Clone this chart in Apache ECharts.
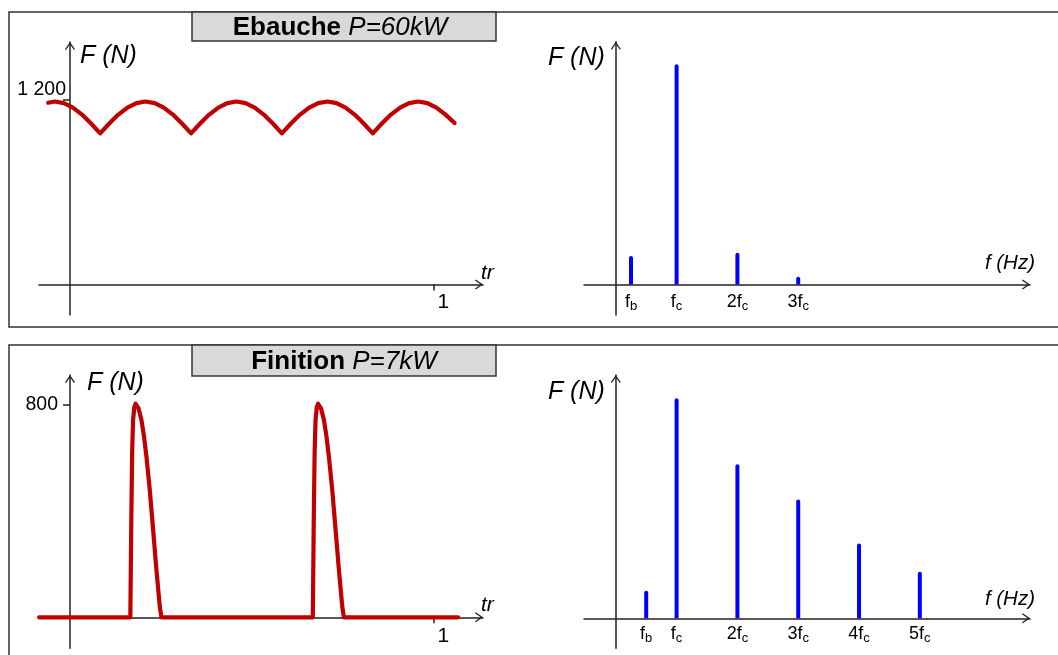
<!DOCTYPE html>
<html><head><meta charset="utf-8">
<script src="https://cdn.jsdelivr.net/npm/echarts@6/dist/echarts.min.js"></script>
<style>html,body{margin:0;padding:0;background:#fff}#c{width:1058px;height:655px}</style>
</head><body><div id="c"></div>
<script>
// ---- data ----
const titleTop = ['Ebauche', 'P=60kW'];
const titleBottom = ['Finition', 'P=7kW'];

// roughing: cutting force vs rotation (tr)
const timeTop = [-0.06, -0.042, -0.017, 0.008, 0.033, 0.058, 0.083,
  0.108, 0.133, 0.158, 0.183, 0.208, 0.233, 0.258, 0.283, 0.308, 0.333,
  0.358, 0.383, 0.408, 0.433, 0.458, 0.483, 0.508, 0.533, 0.558, 0.583,
  0.608, 0.633, 0.658, 0.683, 0.708, 0.733, 0.758, 0.783, 0.808, 0.833,
  0.858, 0.883, 0.908, 0.933, 0.958, 0.983, 1.008, 1.033, 1.058];
const forceTop = [1182, 1190, 1180, 1150, 1105, 1047, 983,
  1047, 1105, 1150, 1180, 1190, 1180, 1150, 1105, 1047, 983,
  1047, 1105, 1150, 1180, 1190, 1180, 1150, 1105, 1047, 983,
  1047, 1105, 1150, 1180, 1190, 1180, 1150, 1105, 1047, 983,
  1047, 1105, 1150, 1180, 1190, 1180, 1150, 1105, 1050];

// finishing: cutting force vs rotation (tr)
const timeBottom = [-0.085, 0.166, 0.1685, 0.171, 0.1735, 0.177, 0.1805, 0.184, 0.1885, 0.1966, 0.2035, 0.2103, 0.2195, 0.2287, 0.2378, 0.247, 0.2516,
  0.668, 0.6705, 0.673, 0.6755, 0.679, 0.6825, 0.686, 0.6905, 0.6986, 0.7055, 0.7123, 0.7215, 0.7307, 0.7398, 0.749, 0.7536, 1.068];
const forceBottom = [0, 0, 350, 620, 740, 790, 802, 800, 785, 741, 680, 603, 478, 328, 178, 40, 0,
  0, 350, 620, 740, 790, 802, 800, 785, 741, 680, 603, 478, 328, 178, 40, 0, 0];

const yTickTop = [1200], yTickTopLabel = ['1 200'];
const yTickBottom = [800], yTickBottomLabel = ['800'];
const xTickLeft = [1], xTickLeftLabel = ['1'];

// spectra (relative amplitude, fc = 100), frequency in multiples of fc
const freqTop = [0.25, 1, 2, 3];
const ampTop = [12.9, 100, 14.4, 3.5];
const freqTopLabel = [['f', 'b'], ['f', 'c'], ['2f', 'c'], ['3f', 'c']];
const freqBottom = [0.5, 1, 2, 3, 4, 5];
const ampBottom = [12.5, 100, 70, 54, 34, 21.2];
const freqBottomLabel = [['f', 'b'], ['f', 'c'], ['2f', 'c'], ['3f', 'c'], ['4f', 'c'], ['5f', 'c']];

// ---- chart ----
const FONT = '"Liberation Sans", Arial, Helvetica, sans-serif';
const AX = '#222';
const ARROW = 'path://M0,7.2 L5,0 L10,7.2 L9,8 L5,2.2 L1,8 Z';
const lineStyleAx = { color: AX, width: 1.5 };
const arrowLine = () => ({
  show: true, onZero: true, symbol: ['none', ARROW], symbolSize: [10, 8], symbolOffset: [0, -4], lineStyle: lineStyleAx
});
const hiddenLine = (idx) => ({ show: true, onZero: true, onZeroAxisIndex: idx, lineStyle: { color: AX, width: 1, opacity: 0 } });
const pairs = (xs, ys) => xs.map((x, i) => [x, ys[i]]);
const freqRich = {
  m: { fontSize: 18, lineHeight: 20, color: '#000', fontFamily: FONT },
  s: { fontSize: 13, lineHeight: 14, padding: [9, 0, 0, 0], color: '#000', fontFamily: FONT }
};
const freqFormatter = (ticks, labels) => (v) => {
  const i = ticks.findIndex(t => Math.abs(t - v) < 1e-6);
  return i < 0 ? '' : '{m|' + labels[i][0] + '}{s|' + labels[i][1] + '}';
};
const none = { show: false };
const nameStyle = (o) => Object.assign({ fontFamily: FONT, fontStyle: 'italic', color: '#000' }, o);

const L = { left: 39, width: 444 };
const R = { left: 584, width: 446 };
const xL = { min: -0.0853, max: 1.1362 };
const xR = { min: -0.523, max: 6.812 };
const yTL = { min: -199.1, max: 1577.4 };
const yBL = { min: -116.4, max: 910.1 };
const yTR = { min: -13.9, max: 110.3 };
const yBR = { min: -13.6, max: 110.6 };

const titleRich = (size) => ({
  b: { fontFamily: FONT, fontWeight: 'bold', fontStyle: 'normal', fontSize: size, lineHeight: 28, color: '#000' },
  i: { fontFamily: FONT, fontWeight: 'normal', fontStyle: 'italic', fontSize: size, lineHeight: 28, color: '#000' }
});
const gridBase = { outerBoundsMode: 'none', containLabel: false };

const option = {
  animation: false,
  textStyle: { fontFamily: FONT },
  title: [
    { text: '{b|' + titleTop[0] + ' }{i|' + titleTop[1] + '}', left: 340, top: 14, textAlign: 'center', padding: 0,
      textStyle: { fontWeight: 'normal', rich: titleRich(26) } },
    { text: '{b|' + titleBottom[0] + ' }{i|' + titleBottom[1] + '}', left: 344, top: 347.5, textAlign: 'center', padding: 0,
      textStyle: { fontWeight: 'normal', rich: titleRich(26) } }
  ],
  graphic: [
    { type: 'rect', z: -10, shape: { x: 9, y: 12, width: 1070, height: 315 }, style: { fill: 'none', stroke: '#333', lineWidth: 1.5 } },
    { type: 'rect', z: -10, shape: { x: 9, y: 345, width: 1070, height: 400 }, style: { fill: 'none', stroke: '#333', lineWidth: 1.5 } },
    { type: 'rect', z: -5, shape: { x: 192, y: 12, width: 304, height: 29 }, style: { fill: '#d9d9d9', stroke: '#333', lineWidth: 1.5 } },
    { type: 'rect', z: -5, shape: { x: 192, y: 345, width: 304, height: 31 }, style: { fill: '#d9d9d9', stroke: '#333', lineWidth: 1.5 } }
  ],
  grid: [
    Object.assign({ left: L.left, width: L.width, top: 42, height: 273 }, gridBase),
    Object.assign({ left: R.left, width: R.width, top: 41.7, height: 273.3 }, gridBase),
    Object.assign({ left: L.left, width: L.width, top: 375, height: 273.3 }, gridBase),
    Object.assign({ left: R.left, width: R.width, top: 375, height: 273.3 }, gridBase)
  ],
  xAxis: [
    // 0: grid0 main
    { type: 'value', gridIndex: 0, min: xL.min, max: xL.max, axisLine: arrowLine(), nameMoveOverlap: false,
      axisTick: { show: true, customValues: xTickLeft, length: 5, lineStyle: lineStyleAx },
      axisLabel: { show: true, customValues: xTickLeft, formatter: v => xTickLeftLabel[xTickLeft.indexOf(v)] || '',
        fontSize: 21, lineHeight: 21, color: '#000', margin: -23.5, align: 'left', padding: [0, 0, 0, 4] },
      splitLine: none, name: 'tr', nameLocation: 'end', nameGap: -2,
      nameTextStyle: nameStyle({ fontSize: 21, align: 'left', verticalAlign: 'bottom', lineHeight: 22 }) },
    // 1: grid0 tick (upper part)
    { type: 'value', gridIndex: 0, min: xL.min, max: xL.max, axisLine: hiddenLine(0),
      axisTick: { show: true, inside: true, customValues: xTickLeft, length: 6, lineStyle: lineStyleAx },
      axisLabel: none, splitLine: none },
    // 2: grid1 spectrum
    { type: 'value', gridIndex: 1, min: xR.min, max: xR.max, axisLine: arrowLine(), axisTick: none, nameMoveOverlap: false,
      axisLabel: { show: true, customValues: freqTop, formatter: freqFormatter(freqTop, freqTopLabel), rich: freqRich, margin: -23 },
      splitLine: none, name: 'f (Hz)', nameLocation: 'end', nameGap: 5,
      nameTextStyle: nameStyle({ fontSize: 20.5, align: 'right', verticalAlign: 'bottom', lineHeight: 43 }) },
    // 3: grid2 main
    { type: 'value', gridIndex: 2, min: xL.min, max: xL.max, axisLine: arrowLine(), nameMoveOverlap: false,
      axisTick: { show: true, customValues: xTickLeft, length: 6, lineStyle: lineStyleAx },
      axisLabel: { show: true, customValues: xTickLeft, formatter: v => xTickLeftLabel[xTickLeft.indexOf(v)] || '',
        fontSize: 21, lineHeight: 21, color: '#000', margin: -22.3, align: 'left', padding: [0, 0, 0, 4] },
      splitLine: none, name: 'tr', nameLocation: 'end', nameGap: -2,
      nameTextStyle: nameStyle({ fontSize: 21, align: 'left', verticalAlign: 'bottom', lineHeight: 25 }) },
    // 4: grid2 tick (upper part)
    { type: 'value', gridIndex: 2, min: xL.min, max: xL.max, axisLine: hiddenLine(3),
      axisTick: { show: true, inside: true, customValues: xTickLeft, length: 5, lineStyle: lineStyleAx },
      axisLabel: none, splitLine: none },
    // 5: grid3 spectrum
    { type: 'value', gridIndex: 3, min: xR.min, max: xR.max, axisLine: arrowLine(), axisTick: none, nameMoveOverlap: false,
      axisLabel: { show: true, customValues: freqBottom, formatter: freqFormatter(freqBottom, freqBottomLabel), rich: freqRich, margin: -24.3 },
      splitLine: none, name: 'f (Hz)', nameLocation: 'end', nameGap: 5,
      nameTextStyle: nameStyle({ fontSize: 20.5, align: 'right', verticalAlign: 'bottom', lineHeight: 39 }) }
  ],
  yAxis: [
    // 0: grid0 main
    { type: 'value', gridIndex: 0, min: yTL.min, max: yTL.max, axisLine: arrowLine(), nameMoveOverlap: false,
      axisTick: { show: true, customValues: yTickTop, length: 5, lineStyle: lineStyleAx },
      axisLabel: { show: true, customValues: yTickTop, formatter: v => yTickTopLabel[yTickTop.indexOf(v)] || '',
        fontSize: 19.5, lineHeight: 20, color: '#000', margin: -27, verticalAlign: 'bottom' },
      splitLine: none, name: 'F (N)', nameLocation: 'end', nameGap: -14,
      nameTextStyle: nameStyle({ fontSize: 25, align: 'left', verticalAlign: 'middle', padding: [0, 0, 0, 10] }) },
    // 1: grid0 tick (right part)
    { type: 'value', gridIndex: 0, min: yTL.min, max: yTL.max, axisLine: hiddenLine(0),
      axisTick: { show: true, inside: true, customValues: yTickTop, length: 7, lineStyle: lineStyleAx },
      axisLabel: none, splitLine: none },
    // 2: grid1 spectrum
    { type: 'value', gridIndex: 1, min: yTR.min, max: yTR.max, axisLine: arrowLine(), axisTick: none, axisLabel: none,
      splitLine: none, name: 'F (N)', nameLocation: 'end', nameGap: -16, nameMoveOverlap: false,
      nameTextStyle: nameStyle({ fontSize: 25, align: 'right', verticalAlign: 'middle', padding: [0, 11, 0, 0] }) },
    // 3: grid2 main
    { type: 'value', gridIndex: 2, min: yBL.min, max: yBL.max, axisLine: arrowLine(), nameMoveOverlap: false,
      axisTick: { show: true, customValues: yTickBottom, length: 7, lineStyle: lineStyleAx },
      axisLabel: { show: true, customValues: yTickBottom, formatter: v => yTickBottomLabel[yTickBottom.indexOf(v)] || '',
        fontSize: 19.5, lineHeight: 20, color: '#000', margin: -19 },
      splitLine: none, name: 'F (N)', nameLocation: 'end', nameGap: -8,
      nameTextStyle: nameStyle({ fontSize: 25, align: 'left', verticalAlign: 'middle', padding: [0, 0, 0, 17] }) },
    // 4: grid2 tick (right part)
    { type: 'value', gridIndex: 2, min: yBL.min, max: yBL.max, axisLine: hiddenLine(3),
      axisTick: { show: true, inside: true, customValues: yTickBottom, length: 7, lineStyle: lineStyleAx },
      axisLabel: none, splitLine: none },
    // 5: grid3 spectrum
    { type: 'value', gridIndex: 3, min: yBR.min, max: yBR.max, axisLine: arrowLine(), axisTick: none, axisLabel: none,
      splitLine: none, name: 'F (N)', nameLocation: 'end', nameGap: -17, nameMoveOverlap: false,
      nameTextStyle: nameStyle({ fontSize: 25, align: 'right', verticalAlign: 'middle', padding: [0, 11, 0, 0] }) }
  ],
  series: [
    { type: 'line', xAxisIndex: 0, yAxisIndex: 0, data: pairs(timeTop, forceTop), symbol: 'none', clip: false,
      lineStyle: { color: '#c00000', width: 4.2, join: 'round', cap: 'round' } },
    { type: 'bar', xAxisIndex: 2, yAxisIndex: 2, data: pairs(freqTop, ampTop), barWidth: 4,
      itemStyle: { color: '#0000ff', borderRadius: [2, 2, 0, 0] } },
    { type: 'line', xAxisIndex: 3, yAxisIndex: 3, data: pairs(timeBottom, forceBottom), symbol: 'none', clip: false,
      lineStyle: { color: '#c00000', width: 4.2, join: 'round', cap: 'round' } },
    { type: 'bar', xAxisIndex: 5, yAxisIndex: 5, data: pairs(freqBottom, ampBottom), barWidth: 4,
      itemStyle: { color: '#0000ff', borderRadius: [2, 2, 0, 0] } }
  ]
};
const chart = echarts.init(document.getElementById('c'), null, { renderer: 'canvas' });
chart.setOption(option);
</script>
</body></html>
